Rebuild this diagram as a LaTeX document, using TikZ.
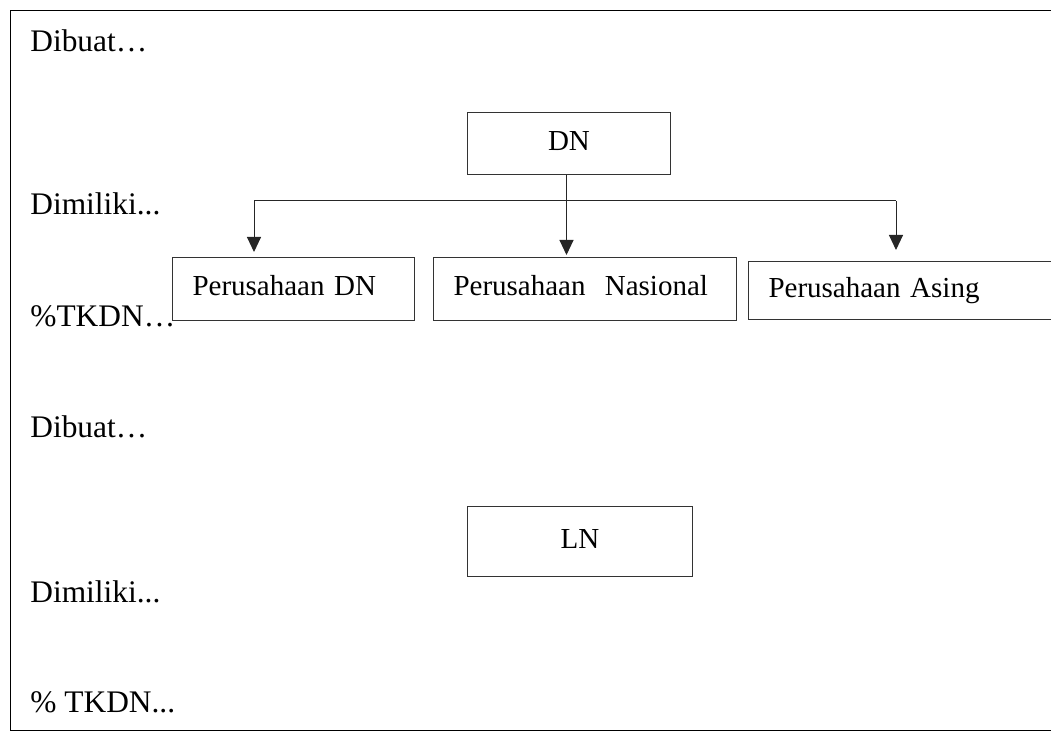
\documentclass[tikz,border=0pt]{standalone}
\usepackage{fontspec}
\setmainfont{Liberation Serif}
\usetikzlibrary{arrows.meta}
\begin{document}
\begin{tikzpicture}[x=0.5pt,y=-0.5pt,
  txt/.style={font=\fontsize{14.5pt}{17pt}\selectfont},
  lbl/.style={font=\fontsize{15.7pt}{18pt}\selectfont,anchor=base west,inner sep=0pt},
  box/.style={txt,draw=black!80,line width=0.5pt,anchor=north west,
    inner ysep=0pt,text height=10.15pt,text depth=3.6pt},
  lbox/.style={box,align=left,inner xsep=10pt},
  conn/.style={draw=black!85,line width=0.5pt},
  arr/.style={conn,-{Triangle[length=7.5pt,width=7pt]}}]
\useasboundingbox (0,0) rectangle (1051,732);
\clip (0,0) rectangle (1051,732);
% outer frame (runs past the right and bottom edges)
\draw[black,line width=0.5pt] (10,11) rectangle (1100,731);

% side labels, upper part
\node[lbl] (d1) at (30,52)  {Dibuat…};
\node[lbl] (m1) at (30,215) {Dimiliki...};
\node[lbl] (t1) at (30,327) {\%TKDN…};
% side labels, lower part
\node[lbl] (d2) at (30,438) {Dibuat…};
\node[lbl] (m2) at (30,603) {Dimiliki...};
\node[lbl] (t2) at (30,713) {\% TKDN...};

% boxes
\node[box,minimum width=101.5pt,minimum height=31pt] (dn) at (467,112) {DN};
\node[lbox,text width=101pt,minimum height=31.5pt] (pdn) at (172,257) {Perusahaan DN};
\node[lbox,text width=131.5pt,minimum height=31.5pt] (pn) at (433,257) {Perusahaan\ \ Nasional};
\node[lbox,text width=150pt,minimum height=29pt] (pa) at (748,261) {Perusahaan Asing};
\node[box,minimum width=112.5pt,minimum height=35pt] (ln) at (467,506) {LN};

% branching connectors
\coordinate (bl) at (254,201);
\coordinate (br) at (896,201);
\draw[conn] (bl) -- (br);
\draw[arr,shorten >=2.5pt] (bl) -- (bl |- pdn.north);
\draw[arr,shorten >=5.5pt] (br) -- (br |- pa.north);
\draw[arr,shorten >=1pt] ([xshift=-1.25pt]dn.south) -- ([xshift=-1.25pt]dn.south |- pn.north);
\end{tikzpicture}
\end{document}
